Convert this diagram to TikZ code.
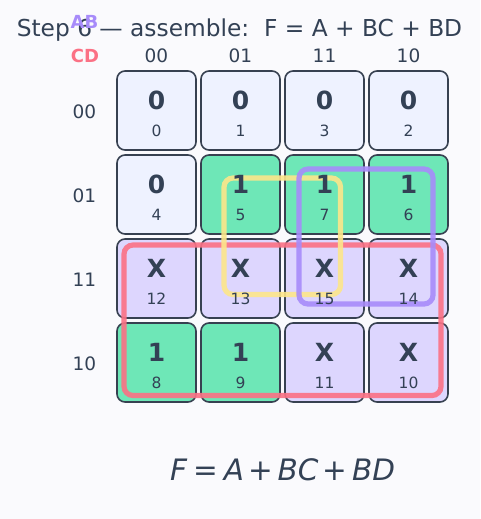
\documentclass[tikz,border=0pt]{standalone}
\usepackage{fontspec}
\setmainfont{DejaVu Sans}
\usetikzlibrary{positioning}
\definecolor{bgc}{HTML}{FAFAFD}
\definecolor{ink}{HTML}{334155}
\definecolor{edge}{HTML}{374151}
\definecolor{zeroc}{HTML}{EEF2FF}
\definecolor{onec}{HTML}{6EE7B7}
\definecolor{xc}{HTML}{DDD6FE}
\definecolor{redc}{HTML}{FB7185}
\definecolor{purc}{HTML}{A78BFA}
\definecolor{yelc}{HTML}{FDE68A}
\tikzset{
  cellbox/.style={draw=edge, line width=1.6pt, rounded corners=8pt, minimum width=79pt, minimum height=79pt, inner sep=0pt},
  zerocell/.style={cellbox, fill=zeroc},
  onecell/.style={cellbox, fill=onec},
  xcell/.style={cellbox, fill=xc},
  valtext/.style={anchor=base, text=ink, font=\bfseries\fontsize{25}{25}\selectfont},
  idxtext/.style={anchor=base, text=ink, font=\fontsize{15.5}{15.5}\selectfont},
  hdr/.style={anchor=base, text=ink, font=\fontsize{18.5}{18.5}\selectfont},
  group/.style={line width=5.2pt, rounded corners=9pt, draw opacity=0.9},
}
\newcommand{\kcell}[4]{% name, x, y, style
  \node[#4] (#1) at (#2,#3) {};
}
\newcommand{\klabel}[5]{% name, x, y, value, index
  \node[valtext] (#1v) at (#2,#3-1.5) {#4};
  \node[idxtext] (#1i) at (#2,#3+25.5) {#5};
}
\begin{document}
\begin{tikzpicture}[x=1pt,y=-1pt]
\useasboundingbox[fill=bgc] (0,0) rectangle (480,519);
\node[anchor=base, text=ink, font=\fontsize{23.3}{23.3}\selectfont] (title) at (239.5,37) {Step 6 — assemble:\ \ F = A + BC + BD};
\node[anchor=base, text=purc, font=\bfseries\fontsize{18}{18}\selectfont] (ab) at (84.5,29) {AB};
\node[anchor=base, text=redc, font=\bfseries\fontsize{18}{18}\selectfont] (cd) at (85,63) {CD};
\node[hdr] (c0) at (156.5,63) {00};
\node[hdr] (c1) at (240.5,63) {01};
\node[hdr] (c2) at (324.5,63) {11};
\node[hdr] (c3) at (408.5,63) {10};
\node[hdr] (r0) at (84.5,118) {00};
\node[hdr] (r1) at (84.5,202) {01};
\node[hdr] (r2) at (84.5,286) {11};
\node[hdr] (r3) at (84.5,370) {10};
\kcell{k0}{156.5}{110.5}{zerocell}
\kcell{k1}{240.5}{110.5}{zerocell}
\kcell{k3}{324.5}{110.5}{zerocell}
\kcell{k2}{408.5}{110.5}{zerocell}
\kcell{k4}{156.5}{194.5}{zerocell}
\kcell{k5}{240.5}{194.5}{onecell}
\kcell{k7}{324.5}{194.5}{onecell}
\kcell{k6}{408.5}{194.5}{onecell}
\kcell{k12}{156.5}{278.5}{xcell}
\kcell{k13}{240.5}{278.5}{xcell}
\kcell{k15}{324.5}{278.5}{xcell}
\kcell{k14}{408.5}{278.5}{xcell}
\kcell{k8}{156.5}{362.5}{onecell}
\kcell{k9}{240.5}{362.5}{onecell}
\kcell{k11}{324.5}{362.5}{xcell}
\kcell{k10}{408.5}{362.5}{xcell}
\draw[group, draw=redc] (124,245) rectangle (441,395.5);
\draw[group, draw=yelc] (224,178) rectangle (340.5,294.5);
\draw[group, draw=purc] (299,169) rectangle (433,304);
\klabel{k0}{156.5}{110.5}{0}{0}
\klabel{k1}{240.5}{110.5}{0}{1}
\klabel{k3}{324.5}{110.5}{0}{3}
\klabel{k2}{408.5}{110.5}{0}{2}
\klabel{k4}{156.5}{194.5}{0}{4}
\klabel{k5}{240.5}{194.5}{1}{5}
\klabel{k7}{324.5}{194.5}{1}{7}
\klabel{k6}{408.5}{194.5}{1}{6}
\klabel{k12}{156.5}{278.5}{X}{12}
\klabel{k13}{240.5}{278.5}{X}{13}
\klabel{k15}{324.5}{278.5}{X}{15}
\klabel{k14}{408.5}{278.5}{X}{14}
\klabel{k8}{156.5}{362.5}{1}{8}
\klabel{k9}{240.5}{362.5}{1}{9}
\klabel{k11}{324.5}{362.5}{X}{11}
\klabel{k10}{408.5}{362.5}{X}{10}
\node[anchor=base, text=ink, font=\fontsize{29.5}{29.5}\selectfont] (formula) at (282.5,480) {\textit{F}\kern.2em=\kern.2em\textit{A}\kern.15em+\kern.15em\textit{BC}\kern.15em+\kern.15em\textit{BD}};
\end{tikzpicture}
\end{document}
